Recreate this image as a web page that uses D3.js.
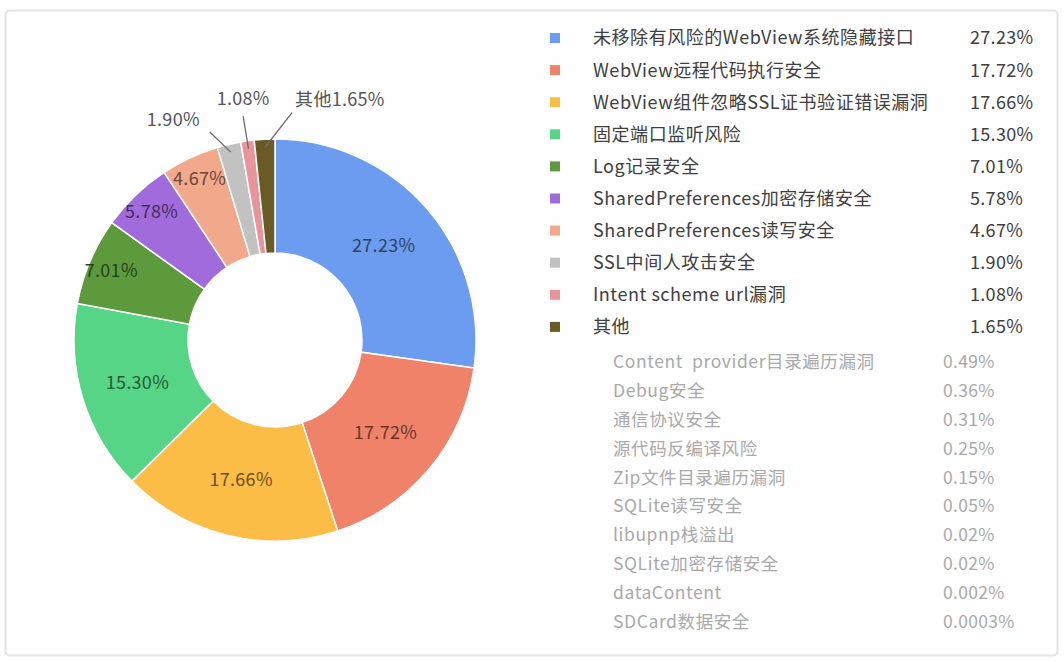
<!DOCTYPE html>
<html>
<head>
<meta charset="utf-8">
<script src="https://cdn.jsdelivr.net/npm/d3@7"></script>
<style>
    html, body { margin: 0; padding: 0; background: #fff; }
    svg { display: block; font-family: "Noto Sans CJK SC", "Noto Sans", sans-serif; }
</style>
</head>
<body>
<svg id="chart" width="1064" height="662"></svg>
<script>
// ── Data ─────────────────────────────────────────────
const categories = [
    '未移除有风险的WebView系统隐藏接口',
    'WebView远程代码执行安全',
    'WebView组件忽略SSL证书验证错误漏洞',
    '固定端口监听风险',
    'Log记录安全',
    'SharedPreferences加密存储安全',
    'SharedPreferences读写安全',
    'SSL中间人攻击安全',
    'Intent scheme url漏洞',
    '其他'
];
const values = [27.23, 17.72, 17.66, 15.30, 7.01, 5.78, 4.67, 1.90, 1.08, 1.65];
const valueLabels = ['27.23%', '17.72%', '17.66%', '15.30%', '7.01%', '5.78%', '4.67%', '1.90%', '1.08%', '1.65%'];
const colors = ['#6b9cf0', '#f0826a', '#fcbd47', '#57d586', '#5d9a3c', '#a16bdc', '#f2a98b', '#c2c2c2', '#e9949b', '#6a5a24'];

// breakdown of 其他
const otherCategories = [
    'Content  provider目录遍历漏洞', 'Debug安全', '通信协议安全', '源代码反编译风险',
    'Zip文件目录遍历漏洞', 'SQLite读写安全', 'libupnp栈溢出', 'SQLite加密存储安全',
    'dataContent', 'SDCard数据安全'
];
const otherLabels = ['0.49%', '0.36%', '0.31%', '0.25%', '0.15%', '0.05%', '0.02%', '0.02%', '0.002%', '0.0003%'];

// ── Layout ───────────────────────────────────────────
const cx = 275, cy = 340, R = 201, r0 = 87;
// small slices get an outside label with a leader line: [index, angleDeg, radius, anchor, dx, dy, prefix]
const outside = [
    [7, -17.4, 218, 'end', -10, -12, ''],
    [8, -8.1, 226, 'middle', 0, -18, ''],
    [9, 4.3, 228, 'start', 3, -13, '其他']
];

const svg = d3.select('#chart');

// frame
svg.append('rect')
    .attr('x', 5.5).attr('y', 10.5)
    .attr('width', 1052).attr('height', 645)
    .attr('rx', 4)
    .attr('fill', '#fefefe')
    .attr('stroke', '#e4e4e4')
    .attr('stroke-width', 2);

const pie = d3.pie().sort(null).value(d => d)(values);
const arc = d3.arc().innerRadius(r0).outerRadius(R);
// narrow slices put their label closer to the rim
const rimArc = d3.arc().innerRadius(178).outerRadius(178);
const g = svg.append('g').attr('transform', `translate(${cx},${cy})`);

g.selectAll('path')
    .data(pie)
    .enter()
    .append('path')
    .attr('d', arc)
    .attr('fill', (d, i) => colors[i])
    .attr('stroke', '#fff')
    .attr('stroke-width', 1.5);

// inside labels
const outsideIdx = outside.map(o => o[0]);
g.selectAll('text.in')
    .data(pie.filter((d, i) => !outsideIdx.includes(i)))
    .enter()
    .append('text')
    .attr('class', 'in')
    .attr('transform', d => `translate(${d.value < 8 ? rimArc.centroid(d) : arc.centroid(d)})`)
    .attr('text-anchor', 'middle')
    .attr('dy', '0.36em')
    .style('font-size', '18px')
    .style('letter-spacing', '0.3px')
    .style('fill', d => d3.color(colors[d.index]).darker(2.4))
    .text(d => valueLabels[d.index]);

// outside labels
const polar = (deg, rad) => [Math.sin(deg * Math.PI / 180) * rad, -Math.cos(deg * Math.PI / 180) * rad];
outside.forEach(([i, ang, rad, anchor, dx, dy, prefix]) => {
    const d = pie[i];
    const mid = (d.startAngle + d.endAngle) / 2 * 180 / Math.PI;
    const p0 = polar(mid, R - 8);
    const p1 = polar(ang, rad);
    g.append('line')
        .attr('x1', p0[0]).attr('y1', p0[1])
        .attr('x2', p1[0]).attr('y2', p1[1])
        .attr('stroke', '#6a6a6a')
        .attr('stroke-width', 1.3);
    g.append('text')
        .attr('x', p1[0] + dx).attr('y', p1[1] + dy)
        .attr('dy', '0.36em')
        .attr('text-anchor', anchor)
        .style('font-size', '18px')
        .style('letter-spacing', '0.3px')
        .style('fill', '#555')
        .text(prefix + valueLabels[i]);
});

// ── Legend ───────────────────────────────────────────
const legend = svg.append('g');
const rowY = i => 38 + i * 32.1;
const leg = legend.selectAll('g.row')
    .data(categories)
    .enter()
    .append('g')
    .attr('class', 'row')
    .attr('transform', (d, i) => `translate(0,${rowY(i)})`);

leg.append('rect')
    .attr('x', 550).attr('y', -5)
    .attr('width', 10).attr('height', 10)
    .attr('fill', (d, i) => colors[i]);
leg.append('text')
    .attr('x', 593).attr('dy', '0.36em')
    .style('font-size', '18px')
    .style('letter-spacing', '0.55px')
    .style('fill', '#404040')
    .text(d => d);
leg.append('text')
    .attr('x', 970).attr('dy', '0.36em')
    .style('font-size', '18px')
    .style('letter-spacing', '0.3px')
    .style('fill', '#404040')
    .text((d, i) => valueLabels[i]);

const otherY = i => 362 + i * 28.8;
const oth = legend.selectAll('g.other')
    .data(otherCategories)
    .enter()
    .append('g')
    .attr('class', 'other')
    .attr('transform', (d, i) => `translate(0,${otherY(i)})`);

oth.append('text')
    .attr('x', 613).attr('dy', '0.36em')
    .style('font-size', '17.5px')
    .style('letter-spacing', '0.6px')
    .style('fill', '#a9a9a9')
    .style('white-space', 'pre')
    .text(d => d);
oth.append('text')
    .attr('x', 943).attr('dy', '0.36em')
    .style('font-size', '17.5px')
    .style('letter-spacing', '0.3px')
    .style('fill', '#a9a9a9')
    .text((d, i) => otherLabels[i]);
</script>
</body>
</html>
